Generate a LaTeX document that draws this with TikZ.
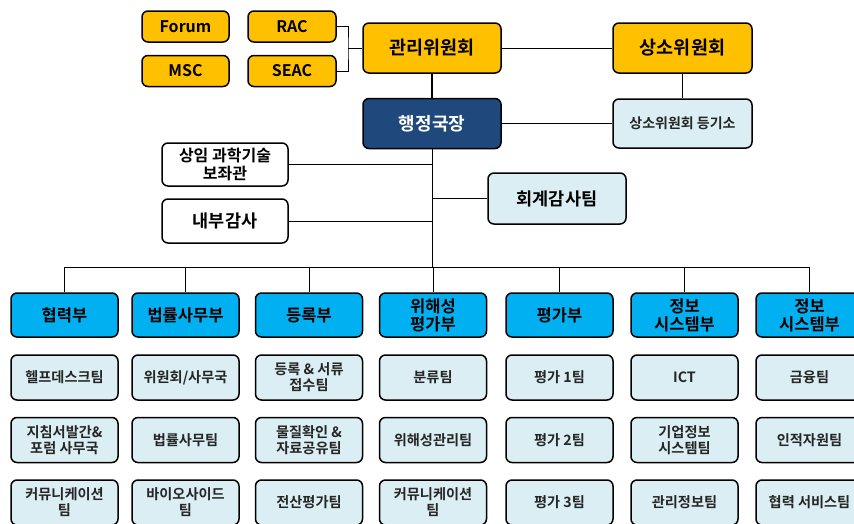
\documentclass[tikz,border=0pt]{standalone}
\usepackage{fontspec}
\setmainfont{Noto Sans CJK KR}[BoldFont={Noto Sans CJK KR Bold}]
\begin{document}
\begin{tikzpicture}[x=1pt,y=-1pt,
  box/.style={draw=black, line width=1.5pt, rounded corners=6pt, align=center, inner sep=1pt, font=\bfseries},
  orange/.style={box, fill=orgc},
  navy/.style={box, fill=navyc, text=white},
  pale/.style={box, fill=palec},
  plain/.style={box, fill=white},
  small/.style={font=\bfseries\fontsize{16}{18}\selectfont},
  dept/.style={box, fill=deptc, minimum width=107pt, minimum height=44pt, font=\bfseries\fontsize{16.5}{18}\selectfont},
  team/.style={box, fill=palec, minimum width=107pt, minimum height=45pt, text=black!85, font=\bfseries\fontsize{14.2}{16}\selectfont},
  thin/.style={line width=1pt},
  thick/.style={line width=1.6pt}]
\definecolor{orgc}{HTML}{FFC000}
\definecolor{navyc}{HTML}{1F497D}
\definecolor{deptc}{HTML}{00B0F0}
\definecolor{palec}{HTML}{DAEEF3}
\useasboundingbox (0,0) rectangle (854,523);
\clip (0,0) rectangle (854,523);

% top small committees
\node[orange, small, minimum width=87pt, minimum height=31pt] (forum) at (185.5,26.5) {Forum};
\node[orange, small, minimum width=87pt, minimum height=31pt] (msc) at (185.5,71) {MSC};
\node[orange, small, minimum width=88pt, minimum height=31pt] (rac) at (292,26.5) {RAC};
\node[orange, small, minimum width=88pt, minimum height=31pt] (seac) at (292,71) {SEAC};

\node[orange, minimum width=138pt, minimum height=50pt, font=\bfseries\fontsize{18.5}{20}\selectfont] (gwanri) at (432,48) {관리위원회};
\node[orange, minimum width=139pt, minimum height=50pt, font=\bfseries\fontsize{18.5}{20}\selectfont] (sangso) at (682.5,48) {상소위원회};
\node[navy, minimum width=138pt, minimum height=50pt, font=\bfseries\fontsize{18}{20}\selectfont] (hj) at (432,123.5) {행정국장};
\node[pale, minimum width=139pt, minimum height=49pt, font=\bfseries\fontsize{14}{16}\selectfont, text=black!85] (reg) at (682.5,123.5) {상소위원회 등기소};

\node[plain, minimum width=126pt, minimum height=43pt, font=\bfseries\fontsize{16}{17.5}\selectfont] (sangim) at (225,164.5) {상임 과학기술\\보좌관};
\node[plain, minimum width=126pt, minimum height=44pt, font=\bfseries\fontsize{17.5}{20}\selectfont] (audit) at (225,221) {내부감사};
\node[pale, minimum width=138pt, minimum height=51pt, font=\bfseries\fontsize{17.5}{20}\selectfont] (acct) at (557,198.5) {회계감사팀};

% departments
\node[dept] (d1) at (64.5,315) {협력부};
\node[dept] (d2) at (185.5,315) {법률사무부};
\node[dept] (d3) at (309,315) {등록부};
\node[dept] (d4) at (433,315) {위해성\\평가부};
\node[dept] (d5) at (559.5,315) {평가부};
\node[dept] (d6) at (684.5,315) {정보\\시스템부};
\node[dept] (d7) at (809.5,315) {정보\\시스템부};

% teams
\node[team] (t11) at (64.5,377.5) {헬프데스크팀};
\node[team] (t12) at (64.5,440) {지침서발간\&\\포럼 사무국};
\node[team] (t13) at (64.5,502.5) {커뮤니케이션\\팀};
\node[team] (t21) at (185.5,377.5) {위원회/사무국};
\node[team] (t22) at (185.5,440) {법률사무팀};
\node[team] (t23) at (185.5,502.5) {바이오사이드\\팀};
\node[team] (t31) at (309,377.5) {등록 \& 서류\\접수팀};
\node[team] (t32) at (309,440) {물질확인 \&\\자료공유팀};
\node[team] (t33) at (309,502.5) {전산평가팀};
\node[team] (t41) at (433,377.5) {분류팀};
\node[team] (t42) at (433,440) {위해성관리팀};
\node[team] (t43) at (433,502.5) {커뮤니케이션\\팀};
\node[team] (t51) at (559.5,377.5) {평가 1팀};
\node[team] (t52) at (559.5,440) {평가 2팀};
\node[team] (t53) at (559.5,502.5) {평가 3팀};
\node[team] (t61) at (684.5,377.5) {ICT};
\node[team] (t62) at (684.5,440) {기업정보\\시스템팀};
\node[team] (t63) at (684.5,502.5) {관리정보팀};
\node[team] (t71) at (809.5,377.5) {금융팀};
\node[team] (t72) at (809.5,440) {인적자원팀};
\node[team] (t73) at (809.5,502.5) {협력 서비스팀};

% connectors
\coordinate (j) at (348,48);
\coordinate (bus) at (432,267);
\draw[thin] (rac.east) -| (j) |- (seac.east);
\draw[thin] (j) -- (gwanri.west);
\draw[thin] (gwanri.east) -- (sangso.west);
\draw[thick] (gwanri.south) -- (hj.north);
\draw[thick] (sangso.south) -- (reg.north);
\draw[thin] (hj.east) -- (reg.west);
\draw[thin] (hj.south) -- (bus);
\draw[thin] (sangim.east) -- (sangim.east -| bus);
\draw[thin] (audit.east) -- (audit.east -| bus);
\draw[thin] (acct.west) -- (acct.west -| bus);
\draw[thin] (d1.north |- bus) -- (d7.north |- bus);
\foreach \d in {d1,d2,d3,d4,d5,d6,d7} \draw[thin] (\d.north) -- (\d.north |- bus);
\end{tikzpicture}
\end{document}
